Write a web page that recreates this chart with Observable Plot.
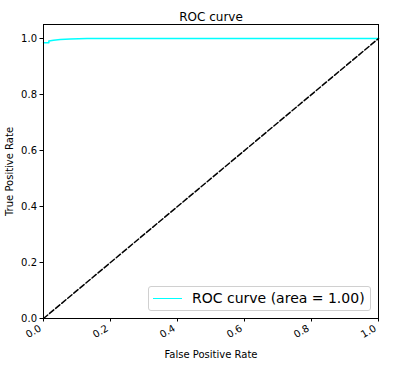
<!DOCTYPE html>
<html><head><meta charset="utf-8">
<script src="https://cdn.jsdelivr.net/npm/d3@7"></script>
<script src="https://cdn.jsdelivr.net/npm/@observablehq/plot@0.6"></script>
<style>
body{margin:0;background:#fff;}
#wrap{position:relative;width:402px;height:369px;font-family:"DejaVu Sans",sans-serif;}
#legend{position:absolute;left:148px;top:286px;width:221px;height:23px;border:1px solid #d0d0d0;border-radius:3px;background:rgba(255,255,255,0.8);}
#legend .sw{position:absolute;left:4px;top:11px;width:29px;height:0;border-top:1.5px solid #00ffff;}
#legend .lb{position:absolute;left:43px;top:3px;font-size:14px;line-height:16px;color:#000;white-space:nowrap;}
</style></head>
<body><div id="wrap"></div>
<script>
const fpr = [0, 0.016, 0.016, 0.03, 0.05, 0.08, 0.13, 1.0];
const tpr = [0.985, 0.985, 0.991, 0.994, 0.996, 0.998, 1.0, 1.0];
const diagX = [0, 1];
const diagY = [0, 1];
const ticks = [0, 0.2, 0.4, 0.6, 0.8, 1.0];
const title = "ROC curve";
const xLabel = "False Positive Rate";
const yLabel = "True Positive Rate";
const legendLabel = "ROC curve (area = 1.00)";

const roc = fpr.map((x, i) => ({x, y: tpr[i]}));
const diag = diagX.map((x, i) => ({x, y: diagY[i]}));
const fmt = d3.format(".1f");

const chart = Plot.plot({
  width: 402, height: 369,
  marginLeft: 43, marginRight: 24, marginTop: 24, marginBottom: 51,
  style: {fontFamily: "DejaVu Sans, sans-serif", fontSize: "10px", color: "#000", background: "#fff"},
  x: {domain: [0, 1]},
  y: {domain: [0, 1.05]},
  marks: [
    Plot.line(roc, {x: "x", y: "y", stroke: "#00ffff", strokeWidth: 1.5}),
    Plot.line(diag, {x: "x", y: "y", stroke: "#000", strokeWidth: 1.5, strokeDasharray: "5.5,2.4"}),
    Plot.frame({stroke: "#000", strokeWidth: 1}),
    Plot.axisX({ticks, tickFormat: () => "", tickSize: 3.5,
      label: xLabel, labelAnchor: "center", labelArrow: "none", labelOffset: 39, fontSize: 10}),
    Plot.text(ticks, {x: d => d, text: d => fmt(d), frameAnchor: "bottom", rotate: -30, textAnchor: "end",
      lineAnchor: "middle", dx: -3, dy: 9, fontSize: 10, clip: false}),
    Plot.axisY({ticks, tickFormat: fmt, tickSize: 3.5, tickPadding: 3, fontSize: 10,
      label: yLabel, labelAnchor: "center", labelArrow: "none", labelOffset: 38}),
    Plot.text([title], {frameAnchor: "top", dy: -12, fontSize: 12, text: d => d})
  ]
});
const wrap = document.getElementById("wrap");
wrap.appendChild(chart);
const lg = document.createElement("div");
lg.id = "legend";
lg.innerHTML = `<div class="sw"></div><div class="lb">${legendLabel}</div>`;
wrap.appendChild(lg);
</script></body></html>
